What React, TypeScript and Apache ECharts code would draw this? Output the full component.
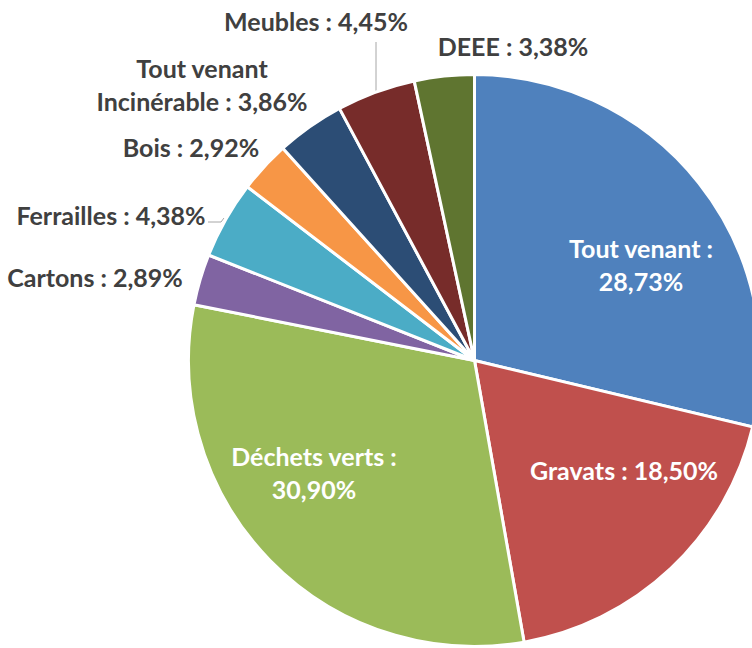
import React, { useEffect, useRef } from "react";
import * as echarts from "echarts";

const categories = [
  "Tout venant",
  "Gravats",
  "Déchets verts",
  "Cartons",
  "Ferrailles",
  "Bois",
  "Tout venant Incinérable",
  "Meubles",
  "DEEE",
];
const shares = [28.73, 18.5, 30.9, 2.89, 4.38, 2.92, 3.86, 4.45, 3.38];
const colors = [
  "#4F81BD",
  "#C0504D",
  "#9BBB59",
  "#8064A2",
  "#4BACC6",
  "#F79646",
  "#2C4D75",
  "#772C2A",
  "#5F7530",
];

// label layout (style): inside/outside, line break mode, anchor positions
const labelInside = [true, true, true, false, false, false, false, false, false];
const labelBreak = ["colon", "none", "colon", "none", "none", "none", "name", "none", "none"];
const labelAnchor: number[][] = [
  [641, 264],
  [624, 470],
  [314, 472],
  [95, 277],
  [111, 215],
  [191, 147],
  [202, 84],
  [316, 21],
  [513, 46],
];
const leaderLines: Record<number, number[][]> = {
  4: [
    [208, 222],
    [221, 222],
    [224, 218],
  ],
  7: [
    [376, 42],
    [376, 92],
  ],
};

const fmt = (v: number) => v.toFixed(2).replace(".", ",") + "%";

export default function App() {
  const ref = useRef<HTMLDivElement>(null);
  useEffect(() => {
    if (!ref.current) return;
    const chart = echarts.init(ref.current, undefined, { renderer: "svg" });
    const data = categories.map((name, i) => ({
      name,
      value: shares[i],
      itemStyle: { color: colors[i] },
      label: {
        position: labelInside[i] ? "inside" : "outside",
        color: labelInside[i] ? "#FFFFFF" : "#404040",
      },
      labelLine: {
        show: leaderLines[i] !== undefined,
        lineStyle: { color: "#A6A6A6", width: 1 },
      },
    }));
    chart.setOption({
      animation: false,
      series: [
        {
          type: "pie",
          center: [474.5, 360.5],
          radius: 286,
          startAngle: 90,
          clockwise: true,
          avoidLabelOverlap: false,
          data,
          itemStyle: { borderColor: "#FFFFFF", borderWidth: 3 },
          label: {
            fontFamily: "Lato",
            fontWeight: "bold",
            fontSize: 25,
            lineHeight: 33,
            formatter: (p: any) => {
              const i = p.dataIndex;
              const b = labelBreak[i];
              const v = fmt(shares[i]);
              if (b === "colon") return p.name + " :\n" + v;
              if (b === "name") {
                const parts = p.name.split(" ");
                return parts.slice(0, 2).join(" ") + "\n" + parts.slice(2).join(" ") + " : " + v;
              }
              return p.name + " : " + v;
            },
          },
          labelLayout: (params: any) => {
            const i = params.dataIndex;
            const a = labelAnchor[i];
            const res: any = { x: a[0], y: a[1], align: "center", verticalAlign: "middle" };
            if (leaderLines[i]) res.labelLinePoints = leaderLines[i];
            return res;
          },
        },
      ],
    });
    return () => chart.dispose();
  }, []);
  return (
    <div
      ref={ref}
      style={{ position: "fixed", left: 0, top: 0, width: 752, height: 648, background: "#FFFFFF" }}
    />
  );
}
